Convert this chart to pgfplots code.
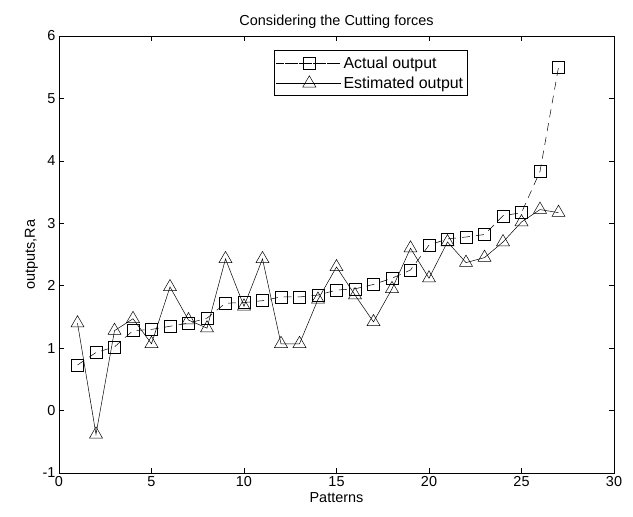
\documentclass[border=0pt]{standalone}
\usepackage{fontspec}
\setmainfont{Liberation Sans}
\usepackage{pgfplots}
\pgfplotsset{compat=1.18}

\begin{document}
\begin{tikzpicture}
\begin{axis}[
    scale only axis,
    width=555bp, height=437bp,
    xmin=0, xmax=30, ymin=-1, ymax=6,
    xtick={0,5,...,30}, ytick={-1,0,...,6},
    tick align=inside,
    major tick length=5bp,
    every tick/.style={black, line width=0.5pt},
    axis line style={black, line width=0.6pt},
    /pgf/number format/assume math mode=true,
    tick label style={font=\fontsize{14.5}{16}\selectfont},
    label style={font=\fontsize{14.5}{16}\selectfont},
    title style={font=\fontsize{14.5}{16}\selectfont, yshift=-2bp},
    title={Considering the Cutting forces},
    xlabel={Patterns},
    ylabel={outputs,Ra},
    xlabel style={yshift=1bp},
    ylabel style={yshift=-2bp},
    legend style={at={(0.387,0.967)}, anchor=north west, draw=black,
        line width=0.6pt,
        font=\fontsize{16}{18}\selectfont, inner xsep=2bp, inner ysep=4bp,
        row sep=3bp, cells={anchor=west}},
    legend image code/.code={
        \path (-9bp,0bp) -- (56bp,0bp);
        \draw[#1] (0bp,0bp) -- (48bp,0bp);
        \draw[#1, solid] plot coordinates {(24bp,0bp)};
    },
]
\addplot[black, line width=0.5pt, dash pattern=on 8bp off 6bp,
    mark=square, mark size=6bp, mark options={solid, line width=0.5pt}] coordinates {
    (1,0.73) (2,0.93) (3,1.02) (4,1.28) (5,1.30) (6,1.35) (7,1.40) (8,1.48)
    (9,1.72) (10,1.73) (11,1.76) (12,1.82) (13,1.82) (14,1.85) (15,1.93)
    (16,1.95) (17,2.02) (18,2.12) (19,2.25) (20,2.65) (21,2.75) (22,2.78)
    (23,2.82) (24,3.12) (25,3.17) (26,3.83) (27,5.50)};
\addplot[black, line width=0.5pt,
    mark=triangle, mark size=7.5bp, mark options={solid, line width=0.5pt}] coordinates {
    (1,1.40) (2,-0.38) (3,1.28) (4,1.47) (5,1.07) (6,1.98) (7,1.45) (8,1.32)
    (9,2.43) (10,1.67) (11,2.43) (12,1.07) (13,1.07) (14,1.78) (15,2.30)
    (16,1.85) (17,1.42) (18,1.95) (19,2.60) (20,2.12) (21,2.70) (22,2.37)
    (23,2.45) (24,2.70) (25,3.02) (26,3.22) (27,3.17)};
\legend{Actual output, Estimated output}
\end{axis}
\path (current axis.south west) ++(-59bp,-44bp) coordinate (bbA);
\path (current axis.north east) ++(19bp,36bp) coordinate (bbB);
\useasboundingbox (bbA) rectangle (bbB);
\end{tikzpicture}
\end{document}
